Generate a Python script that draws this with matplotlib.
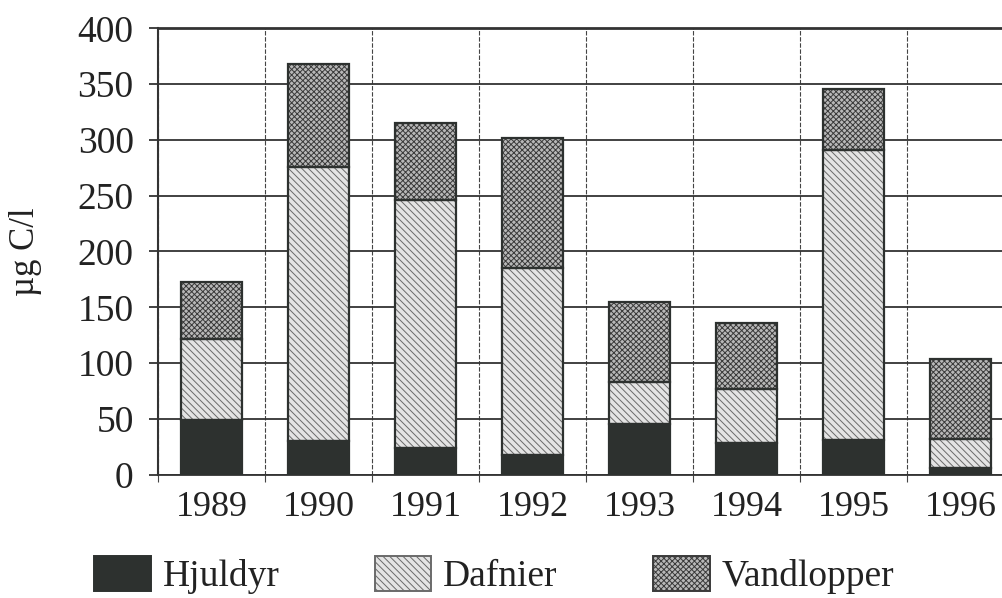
import numpy as np
import matplotlib
matplotlib.use("Agg")
import matplotlib.pyplot as plt

years = ["1989", "1990", "1991", "1992", "1993", "1994", "1995", "1996"]
hjuldyr = [49, 30, 24, 18, 45, 28, 31, 6]
dafnier = [73, 246, 222, 167, 38, 49, 260, 26]
vandlopper = [51, 92, 69, 117, 72, 59, 55, 72]

plt.rcParams["font.family"] = ["Liberation Serif", "DejaVu Serif"]
plt.rcParams["hatch.linewidth"] = 0.7

INK = "#2d312f"
W = 0.57

fig = plt.figure(figsize=(10.03, 5.98), dpi=100)
ax = fig.add_axes([0.1575, 0.2062, 0.8535, 0.7465])

x = np.arange(len(years))
h = np.array(hjuldyr); d = np.array(dafnier); v = np.array(vandlopper)

# fills (hatch drawn in the edge colour, so outlines go on separately)
ax.bar(x, h, W, color=INK, linewidth=0, zorder=3, label="Hjuldyr")
ax.bar(x, d, W, bottom=h, facecolor="#e4e4e4", edgecolor="#6a6a6a",
       hatch="\\\\\\\\\\", linewidth=0, zorder=3, label="Dafnier")
ax.bar(x, v, W, bottom=h + d, facecolor="#b8b8b8", edgecolor="#3a3a3a",
       hatch="xxxxxx", linewidth=0, zorder=3, label="Vandlopper")
for bot, hgt in [(0, h), (h, d), (h + d, v)]:
    ax.bar(x, hgt, W, bottom=bot, fill=False, edgecolor=INK, linewidth=1.6, zorder=4)

ax.set_xlim(-0.5, 7.5)
ax.set_ylim(0, 400)
ax.set_yticks(np.arange(0, 401, 50))
ax.set_xticks(x)
ax.set_xticklabels(years)
ax.set_xticks(np.arange(-0.5, 8, 1), minor=True)

ax.set_axisbelow(True)
ax.grid(axis="y", which="major", color="#333333", linewidth=1.3)
ax.grid(axis="x", which="minor", color="#444444", linewidth=0.8, linestyle=(0, (4, 1.5)))
ax.tick_params(axis="y", length=6.5, width=1.3, color="#333333", pad=11,
               labelsize=27, labelcolor="#222222")
ax.tick_params(axis="x", which="major", length=0, pad=12, labelsize=26, labelcolor="#222222")
ax.tick_params(axis="x", which="minor", length=5, width=0.8, color="#444444")

ax.spines["right"].set_visible(False)
ax.spines["left"].set_linewidth(1.5)
ax.spines["left"].set_color("#333333")
ax.spines["top"].set_linewidth(2.0)
ax.spines["top"].set_color("#333333")
ax.spines["bottom"].set_linewidth(1.3)
ax.spines["bottom"].set_color("#333333")

ax.set_ylabel("µg C/l", fontsize=25, color="#222222")
ax.yaxis.set_label_coords(-0.136, 0.5)

handles, labels = ax.get_legend_handles_labels()
leg = fig.legend(handles, labels, loc="center left", bbox_to_anchor=(0.094, 0.038),
                 ncol=3, frameon=False, fontsize=27, handlelength=1.5, handleheight=1.05,
                 handletextpad=0.32, columnspacing=2.55, borderpad=0, borderaxespad=0)
for p in leg.get_patches():
    p.set_edgecolor(INK)
    p.set_linewidth(1.4)
leg.get_patches()[1].set_edgecolor("#6a6a6a")
leg.get_patches()[2].set_edgecolor("#3a3a3a")
for t in leg.get_texts():
    t.set_color("#222222")

fig.savefig("out.png", dpi=100)
